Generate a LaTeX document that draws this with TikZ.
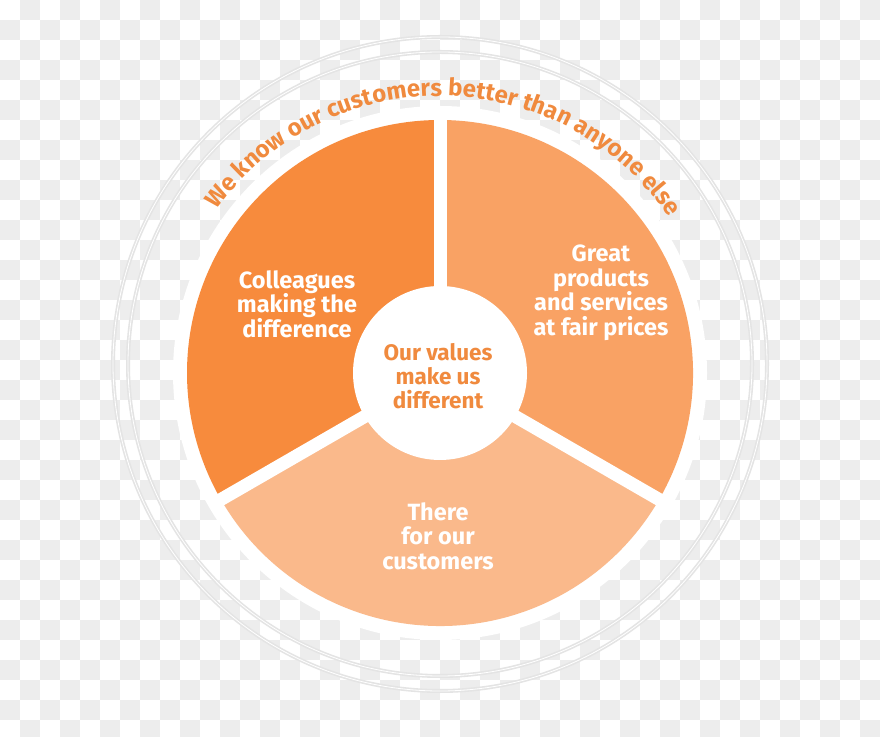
\documentclass[tikz,border=0pt]{standalone}
\usepackage{fontspec}
\setmainfont{Fira Sans}
\usetikzlibrary{decorations.text}
\definecolor{segA}{HTML}{F78B3D}
\definecolor{segB}{HTML}{F9A264}
\definecolor{segC}{HTML}{FAB98B}
\definecolor{txtorange}{HTML}{F08A3E}
\definecolor{checker}{HTML}{EDEDED}
\definecolor{ringgray}{HTML}{E4E4E4}
\tikzset{
  segtext/.style={text=white, font=\bfseries\fontsize{23.5}{24.5}\selectfont, align=center, inner sep=0pt},
  midtext/.style={text=txtorange, font=\bfseries\fontsize{22.5}{24}\selectfont, align=center, inner sep=0pt},
  gapline/.style={white, line width=13pt},
  ringline/.style={ringgray, line width=4pt},
  ringcore/.style={white, line width=0.8pt}
}
\begin{document}
\begin{tikzpicture}[x=1pt,y=1pt]
\useasboundingbox (0,0) rectangle (880,736);
\clip (0,0) rectangle (880,736);
\fill[white] (0,0) rectangle (880,736);
\foreach \i in {0,...,43} {
  \foreach \j in {0,...,36} {
    \pgfmathtruncatemacro\odd{mod(\i+\j,2)}
    \ifnum\odd=1 \fill[checker] (20*\i,716-20*\j) rectangle ++(20,20); \fi
  }
}
\coordinate (C) at (440,363);
\coordinate (R) at (440,372);
% outer rings
\draw[ringline] (R) circle[radius=312];
\draw[ringcore] (R) circle[radius=312];
\draw[ringline] (R) circle[radius=327];
\draw[ringcore] (R) circle[radius=327];
% white disk
\fill[white] (C) circle[radius=267];
% sectors
\fill[segA] (C) -- ++(90:253) arc[start angle=90, end angle=210, radius=253] -- cycle;
\fill[segC] (C) -- ++(210:253) arc[start angle=210, end angle=330, radius=253] -- cycle;
\fill[segB] (C) -- ++(330:253) arc[start angle=330, end angle=450, radius=253] -- cycle;
% gaps
\draw[gapline] (C) -- ++(90:260);
\draw[gapline] (C) -- ++(210:260);
\draw[gapline] (C) -- ++(330:260);
% centre disk
\fill[white] (C) circle[radius=87];
% curved text
\path[decorate, decoration={text along path, text align=center,
  text={|\color{txtorange}\bfseries\fontsize{24}{24}\selectfont|We know our customers better than anyone else}}]
  (C) ++(169:277) arc[start angle=169, end angle=9, radius=277];
% labels
\node[segtext] (colleagues) at (297,432) {Colleagues\\making the\\difference};
\node[segtext] (products) at (601,443) {Great\\products\\and services\\at fair prices};
\node[segtext] (customers) at (438,200) {There\\for our\\customers};
\node[midtext] (values) at (438,360) {Our values\\make us\\different};
\end{tikzpicture}
\end{document}
